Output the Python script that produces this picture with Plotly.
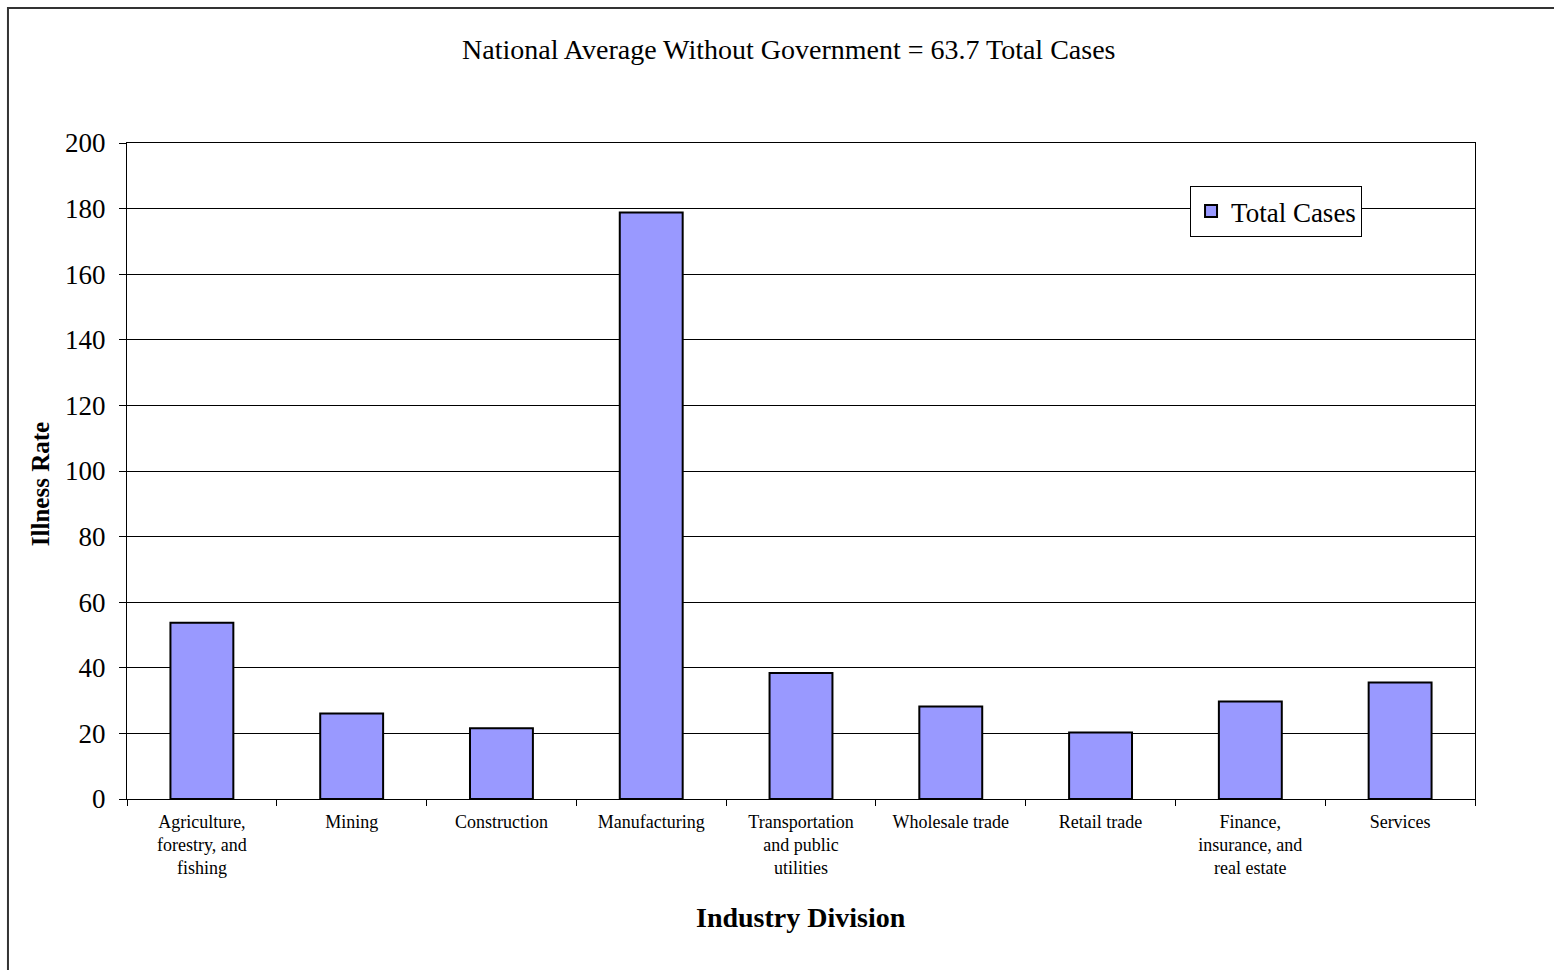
import plotly.graph_objects as go

# Illness rates by industry division
industries = [
    "Agriculture,<br>forestry, and<br>fishing",
    "Mining",
    "Construction",
    "Manufacturing",
    "Transportation<br>and public<br>utilities",
    "Wholesale trade",
    "Retail trade",
    "Finance,<br>insurance, and<br>real estate",
    "Services",
]
total_cases = [53.7, 26.1, 21.6, 178.8, 38.4, 28.2, 20.3, 29.7, 35.5]
y_ticks = [0, 20, 40, 60, 80, 100, 120, 140, 160, 180, 200]

title_text = "National Average Without Government = 63.7 Total Cases"
serif = "Liberation Serif, Times New Roman, serif"

fig = go.Figure()
fig.add_trace(go.Bar(
    x=industries,
    y=total_cases,
    name="Total Cases",
    marker=dict(color="#9999FF", line=dict(color="black", width=2)),
    width=0.42,
))

fig.update_layout(
    width=1554,
    height=970,
    margin=dict(l=127, r=79, t=143, b=171),
    paper_bgcolor="white",
    plot_bgcolor="white",
    font=dict(family=serif, color="black"),
    showlegend=True,
    legend=dict(
        x=0.7886, y=0.9345, xanchor="left", yanchor="top",
        bgcolor="white", bordercolor="black", borderwidth=1,
        font=dict(family=serif, size=27, color="black"),
        itemwidth=30,
    ),
    xaxis=dict(
        showline=True, linecolor="black", linewidth=1, mirror=True,
        ticks="outside", tickson="boundaries", ticklen=6, tickcolor="black",
        tickfont=dict(family=serif, size=18, color="black"),
        ticklabelstandoff=6,
        showgrid=False,
    ),
    yaxis=dict(
        range=[0, 200], tickvals=y_ticks,
        showline=True, linecolor="black", linewidth=1, mirror=True,
        ticks="outside", ticklen=7, tickcolor="black",
        tickfont=dict(family=serif, size=27, color="black"),
        ticklabelstandoff=8,
        showgrid=True, gridcolor="black", gridwidth=1,
        zeroline=False,
    ),
    annotations=[
        dict(text=title_text, xref="paper", yref="paper", x=0.4904, y=1.1418,
             xanchor="center", yanchor="middle", showarrow=False,
             font=dict(family=serif, size=28, color="black")),
        dict(text="<b>Industry Division</b>", xref="paper", yref="paper", x=0.5, y=-0.181,
             xanchor="center", yanchor="middle", showarrow=False,
             font=dict(family=serif, size=28, color="black")),
        dict(text="<b>Illness Rate</b>", xref="paper", yref="paper", x=-0.0645, y=0.48,
             xanchor="center", yanchor="middle", showarrow=False, textangle=-90,
             font=dict(family=serif, size=25, color="black")),
    ],
    shapes=[
        dict(type="rect", xref="paper", yref="paper",
             x0=-0.0883, y0=-0.4, x1=1.2, y1=1.2058,
             line=dict(color="#333333", width=2), layer="below"),
    ],
)

fig.write_html("out.html")
